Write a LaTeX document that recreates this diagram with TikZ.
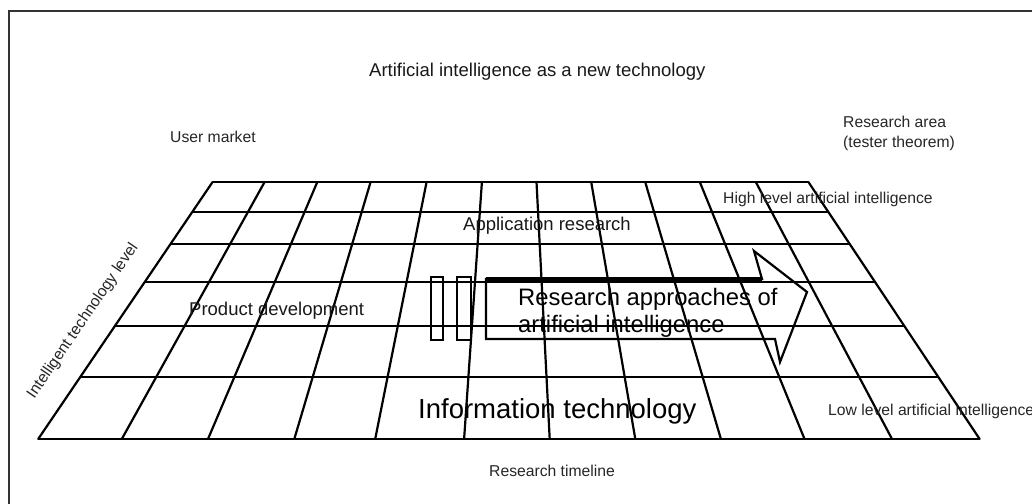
\documentclass[tikz,border=0pt]{standalone}
\usepackage{fontspec}
\setmainfont{Liberation Sans}
\begin{document}
\begin{tikzpicture}[x=1pt,y=-1pt,
  gridline/.style={line width=2.2pt,black},
  smalltxt/.style={font=\fontsize{15.7}{19.5}\selectfont,anchor=base west,inner sep=0pt,text=black!85},
  midtxt/.style={font=\fontsize{18.5}{22}\selectfont,anchor=base west,inner sep=0pt,text=black!90},
  frameline/.style={line width=2pt,black!80}]
\useasboundingbox (0,0) rectangle (1032,503);
\fill[white] (0,0) rectangle (1032,503);
% frame (left and top visible)
\draw[frameline] (9,520) -- (9,11) -- (1050,11);
% grid corners
\coordinate (tl) at (212.6,182);
\coordinate (tr) at (808.4,182);
\coordinate (bl) at (38.2,439);
\coordinate (br) at (979.6,439);
% vertical grid lines
\foreach \a/\b in {212.6/38.2,264.6/121.8,317.3/208,370.6/294.3,426.6/375.2,481.9/464.1,536.5/549.7,591.2/635.3,645.2/720.9,699.8/804.5,755.8/892,808.4/979.6}
  \draw[gridline,line cap=round] (\a,182) -- (\b,439);
% horizontal grid lines
\foreach \y in {182,212,244,282,326,377,439}{
  \pgfmathsetmacro{\xl}{212.6-(174.4/257)*(\y-182)}
  \pgfmathsetmacro{\xr}{808.4+(171.2/257)*(\y-182)}
  \draw[gridline] (\xl,\y) -- (\xr,\y);
}
% small rectangles
\draw[line width=1.8pt] (431,277) rectangle (443,340);
\draw[line width=1.8pt] (457,277) rectangle (471,340);
% block arrow
\coordinate (a1) at (486,279);
\coordinate (a2) at (762,279);
\coordinate (a3) at (754,251);
\coordinate (a4) at (807,292);
\coordinate (a5) at (780,362);
\coordinate (a6) at (775,339);
\coordinate (a7) at (486,339);
\draw[line width=2.2pt,line join=miter] (a1) -- (a2) -- (a3) -- (a4) -- (a5) -- (a6) -- (a7) -- cycle;
\draw[line width=4.5pt] (a1) -- (a2);
% texts
\node[midtxt] (title) at (369,76) {Artificial intelligence as a new technology};
\node[smalltxt] (user) at (170,142) {User market};
\node[smalltxt] (rarea) at (843,127) {Research area};
\node[smalltxt] (rarea2) at (843,147) {(tester theorem)};
\node[smalltxt] (high) at (723,203) {High level artificial intelligence};
\node[midtxt] (app) at (463,230) {Application research};
\node[midtxt] (prod) at (189,315) {Product development};
\node[font=\fontsize{23.8}{27}\selectfont,anchor=base west,inner sep=0pt] (rap1) at (518,305) {Research approaches of};
\node[font=\fontsize{23.8}{27}\selectfont,anchor=base west,inner sep=0pt] (rap2) at (518,332) {artificial intelligence};
\node[font=\fontsize{27.5}{30}\selectfont,anchor=base west,inner sep=0pt] (info) at (418,418) {Information technology};
\node[smalltxt] (low) at (828,415) {Low level artificial intelligence};
\node[smalltxt] (time) at (489,476) {Research timeline};
\node[font=\fontsize{15.7}{19}\selectfont,text=black!85,rotate=55.7,inner sep=0pt] (itl) at (83,321) {Intelligent technology level};
\end{tikzpicture}
\end{document}
